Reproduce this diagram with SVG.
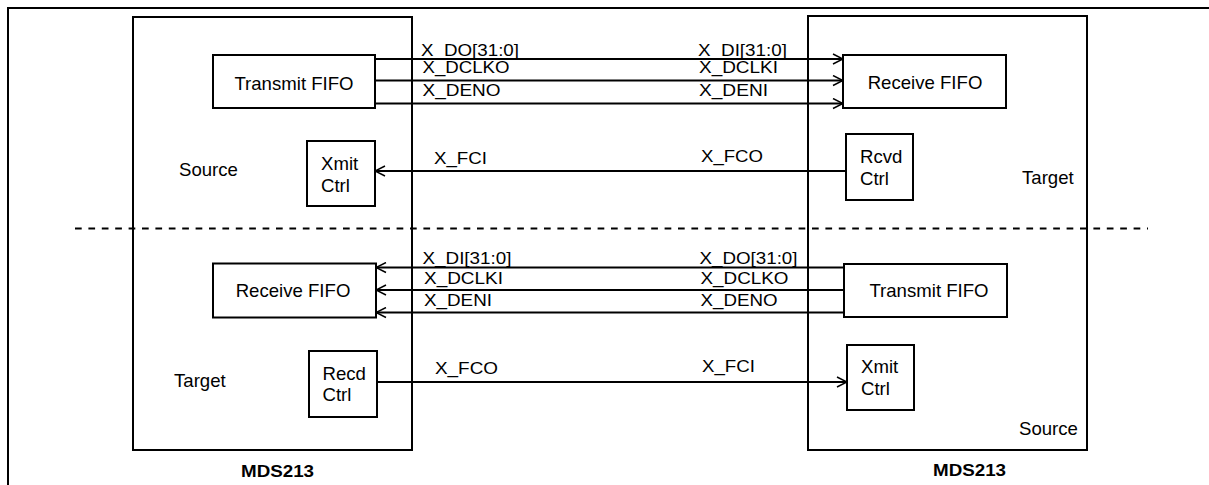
<svg xmlns="http://www.w3.org/2000/svg" width="1209" height="485" viewBox="0 0 1209 485">
<style>
.box{fill:#fff;stroke:#000;stroke-width:2}
.chip{fill:none;stroke:#000;stroke-width:2}
.t{font-family:"Liberation Sans",Arial,sans-serif;font-size:18.6px;fill:#000}
.l{font-family:"Liberation Sans",Arial,sans-serif;font-size:16px;fill:#000}
.b{font-family:"Liberation Sans",Arial,sans-serif;font-size:16px;font-weight:bold;fill:#000}
.w{stroke:#000;stroke-width:2;fill:none}
.ah{stroke:#000;stroke-width:1.5;fill:none}
</style>
<defs>
<marker id="arr" viewBox="0 0 12 12" refX="11" refY="6" markerWidth="12" markerHeight="12" markerUnits="userSpaceOnUse" orient="auto">
<path d="M1,1 L11,6 L1,11" class="ah"/>
</marker>
</defs>
<rect width="1209" height="485" fill="#fff"/>
<path d="M8,485 V8 H1209" class="w"/>
<line x1="75" y1="228.5" x2="1148" y2="228.5" stroke="#000" stroke-width="1.8" stroke-dasharray="6.7 6.7"/>

<g id="chip-left">
<rect x="133" y="17" width="279" height="433" class="chip"/>
<text x="241" y="477" class="b" textLength="73" lengthAdjust="spacingAndGlyphs">MDS213</text>
<text x="179" y="176" class="t">Source</text>
<text x="174" y="387" class="t">Target</text>
</g>
<g id="chip-right">
<rect x="808" y="16" width="279" height="434" class="chip"/>
<text x="933" y="476" class="b" textLength="73" lengthAdjust="spacingAndGlyphs">MDS213</text>
<text x="1022" y="184" class="t">Target</text>
<text x="1019" y="435" class="t">Source</text>
</g>

<g id="connectors">
<line x1="375" y1="59" x2="843" y2="59" class="w" marker-end="url(#arr)"/>
<line x1="375" y1="80.5" x2="843" y2="80.5" class="w" marker-end="url(#arr)"/>
<line x1="375" y1="103.5" x2="843" y2="103.5" class="w" marker-end="url(#arr)"/>
<line x1="846" y1="171" x2="375" y2="171" class="w" marker-end="url(#arr)"/>
<line x1="844" y1="267.5" x2="376" y2="267.5" class="w" marker-end="url(#arr)"/>
<line x1="844" y1="290" x2="376" y2="290" class="w" marker-end="url(#arr)"/>
<line x1="844" y1="312.5" x2="376" y2="312.5" class="w" marker-end="url(#arr)"/>
<line x1="377" y1="382" x2="847" y2="382" class="w" marker-end="url(#arr)"/>
<text x="421" y="55.5" class="l" textLength="98" lengthAdjust="spacingAndGlyphs">X_DO[31:0]</text>
<text x="422.5" y="72.5" class="l" textLength="87" lengthAdjust="spacingAndGlyphs">X_DCLKO</text>
<text x="422.5" y="96" class="l" textLength="78" lengthAdjust="spacingAndGlyphs">X_DENO</text>
<text x="698" y="55.5" class="l" textLength="89" lengthAdjust="spacingAndGlyphs">X_DI[31:0]</text>
<text x="699" y="72.5" class="l" textLength="79" lengthAdjust="spacingAndGlyphs">X_DCLKI</text>
<text x="699" y="96" class="l" textLength="69" lengthAdjust="spacingAndGlyphs">X_DENI</text>
<text x="434" y="164" class="l" textLength="53" lengthAdjust="spacingAndGlyphs">X_FCI</text>
<text x="701" y="161.5" class="l" textLength="62" lengthAdjust="spacingAndGlyphs">X_FCO</text>
<text x="422.5" y="264" class="l" textLength="89" lengthAdjust="spacingAndGlyphs">X_DI[31:0]</text>
<text x="424" y="283.5" class="l" textLength="79" lengthAdjust="spacingAndGlyphs">X_DCLKI</text>
<text x="424" y="306" class="l" textLength="68" lengthAdjust="spacingAndGlyphs">X_DENI</text>
<text x="699.5" y="264" class="l" textLength="98" lengthAdjust="spacingAndGlyphs">X_DO[31:0]</text>
<text x="700.5" y="284" class="l" textLength="88" lengthAdjust="spacingAndGlyphs">X_DCLKO</text>
<text x="700.5" y="306" class="l" textLength="77" lengthAdjust="spacingAndGlyphs">X_DENO</text>
<text x="435" y="374" class="l" textLength="63" lengthAdjust="spacingAndGlyphs">X_FCO</text>
<text x="702" y="371.5" class="l" textLength="53" lengthAdjust="spacingAndGlyphs">X_FCI</text>
</g>

<g id="tx-fifo-top">
<rect x="213" y="55" width="162" height="53" class="box"/>
<text x="294" y="90" class="t" text-anchor="middle">Transmit FIFO</text>
</g>
<g id="xmit-ctrl-top">
<rect x="307" y="141" width="68" height="65" class="box"/>
<text x="321" y="170" class="t">Xmit</text>
<text x="321" y="192" class="t">Ctrl</text>
</g>
<g id="rx-fifo-top">
<rect x="843" y="55" width="163" height="53" class="box"/>
<text x="925" y="89" class="t" text-anchor="middle">Receive FIFO</text>
</g>
<g id="rcvd-ctrl-top">
<rect x="846" y="134" width="67" height="66" class="box"/>
<text x="860" y="163" class="t">Rcvd</text>
<text x="860" y="185" class="t">Ctrl</text>
</g>
<g id="rx-fifo-bottom">
<rect x="213" y="263.5" width="163" height="54" class="box"/>
<text x="293" y="297" class="t" text-anchor="middle">Receive FIFO</text>
</g>
<g id="recd-ctrl-bottom">
<rect x="309" y="351" width="68" height="66" class="box"/>
<text x="322.5" y="380" class="t">Recd</text>
<text x="322.5" y="401" class="t">Ctrl</text>
</g>
<g id="tx-fifo-bottom">
<rect x="844" y="264" width="163" height="53" class="box"/>
<text x="929" y="297" class="t" text-anchor="middle">Transmit FIFO</text>
</g>
<g id="xmit-ctrl-bottom">
<rect x="847" y="345" width="67" height="65" class="box"/>
<text x="861" y="373" class="t">Xmit</text>
<text x="861" y="395" class="t">Ctrl</text>
</g>
</svg>
